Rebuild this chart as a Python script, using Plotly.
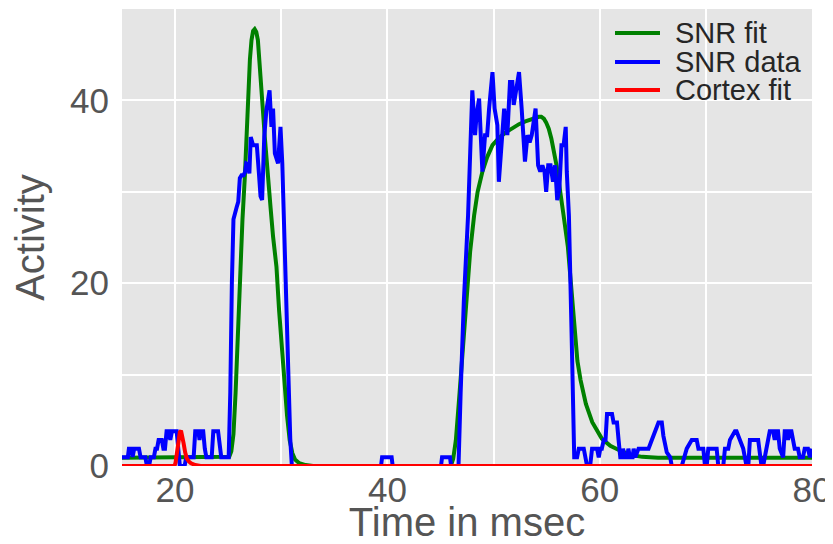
import plotly.graph_objects as go

# ---- data ----
snr_data_t = [15.0, 15.55, 15.65, 15.85, 16.0, 16.15, 16.6, 16.75, 17.2, 17.35, 17.55, 17.7, 18.0, 18.15,
              18.3, 18.45, 18.75, 18.9, 19.05, 19.2, 19.4, 19.55, 19.7, 20.15, 20.3, 20.45, 20.9, 21.05,
              21.75, 21.9, 22.2, 22.3, 22.4, 22.65, 22.8, 22.95, 23.45, 23.6, 24.05, 24.2, 24.35, 25.05,
              25.2, 25.35, 25.5, 25.8, 25.95, 26.1, 26.26, 26.45, 26.6, 26.7, 26.85, 27.0, 27.13, 27.35,
              27.7, 27.9, 28.05, 28.2, 28.4, 28.6, 28.9, 29.08, 29.23, 29.4, 29.55, 29.7, 29.93, 30.1,
              30.3, 30.6, 30.85, 31.0, 39.4, 39.5, 40.4, 40.5, 45.05, 45.15, 45.9, 46.0, 46.7, 46.9,
              47.2, 47.6, 48.0, 48.26, 48.4, 48.64, 48.8, 48.95, 49.2, 49.4, 49.58, 49.74, 49.9, 50.1,
              50.36, 50.5, 50.7, 51.0, 51.3, 51.55, 51.77, 51.9, 52.1, 52.4, 52.65, 52.96, 53.2, 53.4,
              53.6, 53.96, 54.2, 54.4, 54.6, 54.8, 54.96, 55.15, 55.37, 55.6, 55.8, 56.0, 56.2, 56.4,
              56.6, 56.8, 56.9, 57.1, 57.4, 57.6, 57.87, 58.03, 58.5, 58.65, 58.81, 59.1, 59.28, 59.75,
              59.91, 60.06, 60.2, 60.38, 60.55, 60.69, 61.16, 61.31, 61.63, 61.78, 61.94, 62.1, 62.2,
              62.35, 62.6, 62.7, 62.85, 63.1, 63.2, 63.35, 63.66, 64.29, 64.6, 64.91, 65.23, 65.54,
              65.7, 65.85, 66.0, 66.32, 66.64, 66.79, 67.73, 68.2, 68.67, 68.98, 69.14, 69.3, 69.76,
              69.92, 70.08, 70.23, 71.02, 71.17, 71.64, 71.8, 72.11, 72.27, 72.74, 72.89, 73.2, 73.52,
              73.83, 74.0, 74.15, 74.93, 75.24, 75.4, 75.55, 75.71, 76.02, 76.34, 76.49, 76.65, 76.8,
              76.96, 77.28, 77.43, 77.6, 77.74, 77.9, 78.06, 78.21, 78.37, 78.68, 78.84, 79.15, 79.31,
              79.62, 79.8, 80.0]
snr_data_v = [0.95, 0.95, 1.9, 1.9, 1.0, 1.9, 1.9, 0.95, 0.95, 0.0, 0.0, 0.95, 0.95, 1.9,
              1.9, 2.85, 2.85, 1.9, 1.9, 3.8, 3.8, 2.85, 3.8, 3.8, 1.9, 0.0, 0.0, 0.95,
              0.95, 3.8, 3.8, 2.85, 3.8, 3.8, 1.9, 0.95, 0.95, 3.8, 3.8, 1.9, 0.95, 0.95,
              8.0, 20.0, 27.0, 28.3, 28.9, 31.5, 31.8, 31.8, 32.2, 33.1, 33.0, 32.0, 36.0, 35.1,
              35.1, 32.0, 29.5, 29.1, 36.0, 38.9, 41.1, 37.1, 39.1, 34.2, 33.5, 33.1, 37.1, 33.1,
              25.0, 12.0, 3.0, 0.0, 0.0, 0.95, 0.95, 0.0, 0.0, 0.95, 0.95, 0.0, 0.0, 8.0,
              18.0, 27.4, 41.1, 36.2, 38.4, 40.2, 35.8, 32.2, 36.2, 36.2, 39.1, 41.3, 43.1, 39.1,
              37.3, 31.1, 34.0, 39.1, 36.2, 42.0, 42.0, 39.5, 40.9, 43.1, 39.1, 33.3, 36.2, 35.4,
              36.2, 39.1, 32.9, 32.2, 32.9, 32.2, 30.0, 32.9, 32.9, 31.1, 32.9, 29.1, 30.3, 35.1,
              35.1, 37.1, 32.2, 27.4, 12.0, 0.95, 0.95, 1.9, 1.9, 0.95, 0.0, 0.0, 1.9, 1.9,
              0.95, 1.9, 1.9, 2.85, 2.85, 5.7, 5.7, 4.75, 4.75, 2.85, 0.95, 0.95, 1.9,
              0.95, 0.95, 1.9, 0.95, 0.95, 1.9, 0.95, 1.9, 1.9, 1.9, 2.85, 3.8, 4.75,
              4.75, 4.75, 3.3, 1.5, 0.95, 0.0, 0.0, 1.9, 2.85, 2.85, 2.85, 1.9, 1.9,
              0.0, 0.0, 1.9, 1.9, 0.0, 0.0, 1.9, 1.9, 2.85, 3.8, 3.8, 2.85, 1.9,
              0.0, 0.0, 2.85, 2.85, 0.0, 0.0, 0.95, 1.9, 3.8, 3.8, 2.85, 3.8, 3.8,
              1.9, 0.95, 3.8, 3.8, 2.85, 3.8, 3.8, 2.85, 1.9, 1.9, 0.95, 0.95, 1.9,
              1.9, 0.95, 1.9]

snr_fit_t = [15.0, 24.9, 25.1, 25.3, 25.5, 25.7, 25.9, 26.1, 26.35, 26.57, 26.75, 26.9, 27.05, 27.2,
             27.35, 27.5, 27.65, 27.8, 27.95, 28.1, 28.3, 28.45, 28.6, 28.76, 29.0, 29.23, 29.55, 29.8,
             30.05, 30.3, 30.55, 30.8, 31.05, 31.3, 31.7, 32.3, 33.0, 45.8, 46.0, 46.2, 46.45, 46.8,
             47.1, 47.5, 47.8, 48.17, 48.5, 48.95, 49.4, 49.9, 50.5, 51.15, 51.8, 52.4, 53.0, 53.64,
             54.27, 54.5, 54.74, 54.95, 55.2, 55.45, 55.7, 55.95, 56.15, 56.4, 56.6, 57.0, 57.3, 57.6,
             57.9, 58.2, 58.7, 59.3, 60.2, 61.0, 61.8, 63.0, 64.0, 65.5, 80.0]
snr_fit_v = [0.9, 0.9, 1.0, 1.6, 3.5, 8.0, 14.5, 21.8, 27.0, 31.6, 36.5, 41.5, 44.5, 46.6,
             47.6, 47.8, 47.5, 46.6, 44.5, 41.5, 38.5, 36.0, 33.6, 31.3, 28.2, 25.1, 21.8, 17.0,
             13.0, 9.4, 5.5, 2.8, 1.4, 0.7, 0.3, 0.1, 0.0, 0.0, 0.1, 0.8, 2.8, 8.0,
             13.0, 19.0, 23.5, 27.4, 30.0, 32.2, 33.8, 35.1, 35.9, 36.5, 37.0, 37.4, 37.7, 38.0,
             38.2, 38.2, 38.0, 37.6, 36.9, 35.8, 34.4, 32.8, 31.1, 29.3, 27.4, 24.0, 20.0, 15.0,
             11.5, 9.4, 6.8, 4.8, 3.0, 2.2, 1.75, 1.2, 1.0, 0.9, 0.9]

cortex_fit_t = [15.0, 19.95, 20.05, 20.15, 20.31, 20.45, 20.56, 20.68, 20.8, 20.95, 21.1, 21.3, 21.5,
                21.9, 22.4, 80.0]
cortex_fit_v = [0.0, 0.0, 0.4, 1.4, 3.0, 3.7, 3.86, 3.3, 2.5, 1.5, 0.84, 0.5, 0.3, 0.1, 0.0, 0.0]

series_names = ["SNR fit", "SNR data", "Cortex fit"]
series_colors = ["green", "blue", "red"]

x_ticks = [20, 40, 60, 80]
y_ticks = [0, 20, 40]

FONT = "Liberation Sans, Arial, sans-serif"

fig = go.Figure()
for (t, v), name, color in zip([(snr_fit_t, snr_fit_v), (snr_data_t, snr_data_v),
                                (cortex_fit_t, cortex_fit_v)], series_names, series_colors):
    fig.add_trace(go.Scatter(x=t, y=v, mode="lines", name=name, showlegend=False,
                             line=dict(color=color, width=4)))

# legend drawn in the upper-right corner (tight row spacing as in the reference)
leg_rows_y = [0.9475, 0.884, 0.8228]
for name, color, yy in zip(series_names, series_colors, leg_rows_y):
    fig.add_shape(type="line", xref="paper", yref="paper", x0=0.7145, x1=0.7797, y0=yy, y1=yy,
                  line=dict(color=color, width=4))
    fig.add_annotation(xref="paper", yref="paper", x=0.800, y=yy, text=name, showarrow=False,
                       xanchor="left", yanchor="middle", borderpad=0,
                       font=dict(size=29, color="#262626", family=FONT))

grid = dict(showgrid=True, gridcolor="white", gridwidth=2)
# page body has an 8px margin: figure is offset by (8, 8) inside the 833x544 window
fig.update_layout(
    width=825, height=536,
    margin=dict(l=114, r=21, t=1, b=78),
    paper_bgcolor="white",
    plot_bgcolor="#E5E5E5",
    font=dict(family=FONT, color="#555555"),
    showlegend=False,
    xaxis=dict(range=[15, 80], tickvals=x_ticks, ticktext=[str(v) for v in x_ticks],
               zeroline=False, ticks="", ticklen=0, automargin=False,
               tickfont=dict(size=35, color="#555555"),
               title=dict(text="Time in msec", font=dict(size=40, color="#555555"), standoff=22),
               minor=dict(dtick=10, tick0=0, **grid), **grid),
    yaxis=dict(range=[0, 50], tickvals=y_ticks, ticktext=[str(v) for v in y_ticks],
               zeroline=False, ticks="", ticklen=0, automargin=False, ticklabelstandoff=12,
               tickfont=dict(size=35, color="#555555"),
               title=dict(text="Activity", font=dict(size=40, color="#555555"), standoff=27),
               minor=dict(dtick=10, tick0=0, **grid), **grid),
)

fig.write_html("out.html")
